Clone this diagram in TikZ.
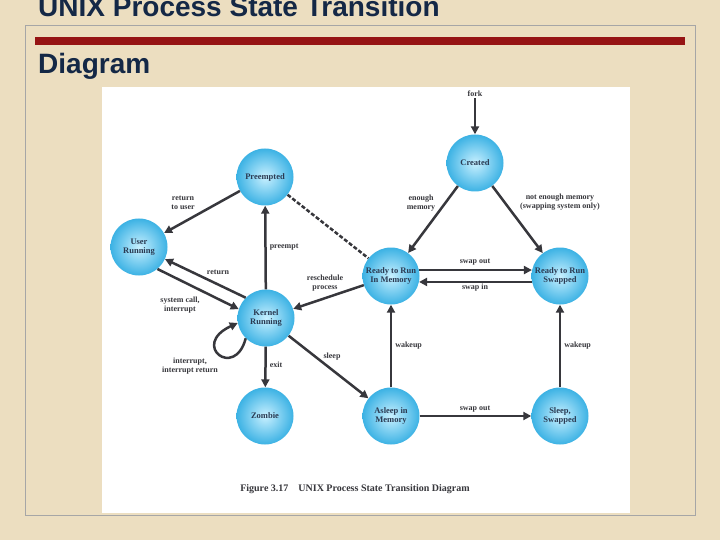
\documentclass[tikz,border=0pt]{standalone}
\usepackage{fontspec}
\setmainfont{Liberation Serif}
\newfontfamily\titlefont{Liberation Sans}
\usetikzlibrary{arrows.meta}
\definecolor{parch}{RGB}{236,222,192}
\definecolor{navy}{RGB}{20,40,70}
\definecolor{bar}{RGB}{150,20,20}
\definecolor{ink}{RGB}{55,55,60}
\definecolor{ballout}{RGB}{60,178,228}
\definecolor{ballin}{RGB}{200,240,255}
\tikzset{
 st/.style={circle,minimum size=57pt,inner sep=0pt,shading=radial,inner color=ballin,outer color=ballout,
   font=\fontsize{8.5}{9.5}\selectfont\bfseries,text=navy!80!gray,align=center},
 ar/.style={draw=ink,line width=2.5pt,-{Triangle[length=8pt,width=8pt]}},
 lb/.style={font=\fontsize{8}{9}\selectfont\bfseries,text=ink,align=center,inner sep=1pt}
}
\begin{document}
\begin{tikzpicture}[x=1pt,y=-1pt]
\useasboundingbox (0,0) rectangle (720,540);
\fill[parch] (0,0) rectangle (720,540);
\draw[gray!70,line width=0.8pt] (25,25) rectangle (695,515);
\fill[bar] (35,37) rectangle (685,45);
\node[anchor=base west,inner sep=0,font=\titlefont\fontsize{28}{30}\selectfont\bfseries,text=navy] (t1) at (38,17) {UNIX Process State Transition};
\node[anchor=base west,inner sep=0,font=\titlefont\fontsize{28}{30}\selectfont\bfseries,text=navy] (t2) at (38,74) {Diagram};
\fill[white] (102,87) rectangle (630,513);
\node[st] (cr) at (475,163) {Created};
\node[st] (pr) at (265,177) {Preempted};
\node[st] (ur) at (139,247) {User\\Running};
\node[st] (kr) at (266,318) {Kernel\\Running};
\node[st] (rm) at (391,276) {Ready to Run\\In Memory};
\node[st] (rs) at (560,276) {Ready to Run\\Swapped};
\node[st] (zo) at (265,416) {Zombie};
\node[st] (am) at (391,416) {Asleep in\\Memory};
\node[st] (ss) at (560,416) {Sleep,\\Swapped};
\node[lb] (fork) at (475,94) {fork};
\draw[ar] (fork) -- (cr);
\draw[ar] (cr) -- (rm);
\draw[ar] (cr) -- (rs);
\node[lb] at (421,203) {enough\\memory};
\node[lb] at (560,202) {not enough memory\\(swapping system only)};
\draw[ar] (rm.12) -- (rs.168);
\node[lb] at (475,262) {swap out};
\draw[ar] (rs.192) -- (rm.-12);
\node[lb] at (475,288) {swap in};
\draw[ar] (am) -- (rm) node[lb,midway,right=2pt] {wakeup};
\draw[ar] (ss) -- (rs) node[lb,midway,right=2pt] {wakeup};
\draw[ar] (am) -- (ss);
\node[lb] at (475,409) {swap out};
\draw[draw=ink,line width=2.5pt,dash pattern=on 4pt off 2pt] (pr) -- (rm);
\draw[ar] (rm) -- (kr);
\node[lb] at (325,283) {reschedule\\process};
\draw[ar] (kr) -- (pr) node[lb,midway,right=2pt] {preempt};
\draw[ar] (pr) -- (ur);
\node[lb] at (183,203) {return\\to user};
\draw[ar] (kr.135) -- (ur.-25);
\node[lb] at (218,272) {return};
\draw[ar] (ur.-50) -- (kr.162);
\node[lb] at (180,305) {system call,\\interrupt};
\draw[ar] (kr.225) .. controls (235,380) and (190,345) .. (kr.190);
\node[lb] at (190,366) {interrupt,\\interrupt return};
\draw[ar] (kr) -- (zo) node[lb,pos=0.45,right=2pt] {exit};
\draw[ar] (kr) -- (am);
\node[lb] at (332,357) {sleep};
\node[font=\bfseries\fontsize{10}{11}\selectfont,text=ink] (cap) at (355,489) {Figure 3.17\quad UNIX Process State Transition Diagram};
\end{tikzpicture}
\end{document}
